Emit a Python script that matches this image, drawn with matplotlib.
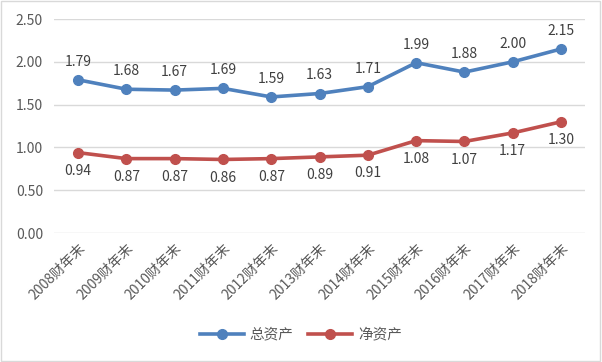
import matplotlib
matplotlib.use("Agg")
import matplotlib.pyplot as plt
from matplotlib.patches import Rectangle

plt.rcParams['font.family'] = ['Noto Sans CJK SC', 'DejaVu Sans']

years = ["2008", "2009", "2010", "2011", "2012", "2013", "2014", "2015", "2016", "2017", "2018"]
labels = [y + "财年末" for y in years]
total_assets = [1.79, 1.68, 1.67, 1.69, 1.59, 1.63, 1.71, 1.99, 1.88, 2.00, 2.15]
net_assets = [0.94, 0.87, 0.87, 0.86, 0.87, 0.89, 0.91, 1.08, 1.07, 1.17, 1.30]

BLUE = "#4F81BD"
RED = "#C0504D"
TXT = "#595959"


def main():
    fig = plt.figure(figsize=(6.02, 3.62), dpi=100)
    ax = fig.add_axes([0.0897, 0.356, 0.8823, 0.5915])

    x = list(range(len(labels)))
    ax.plot(x, total_assets, color=BLUE, lw=2.6, marker='o', ms=7, label="总资产")
    ax.plot(x, net_assets, color=RED, lw=2.6, marker='o', ms=7, label="净资产")

    for i, v in enumerate(total_assets):
        ax.annotate(f"{v:.2f}", (i, v), xytext=(0, 8), textcoords='offset points',
                    ha='center', va='bottom', fontsize=10, color="#404040")
    for i, v in enumerate(net_assets):
        ax.annotate(f"{v:.2f}", (i, v), xytext=(0, -8), textcoords='offset points',
                    ha='center', va='top', fontsize=10, color="#404040")

    ax.set_xlim(-0.5, len(labels) - 0.5)
    ax.set_ylim(0, 2.5)
    ax.set_yticks([0, 0.5, 1.0, 1.5, 2.0, 2.5])
    ax.set_yticklabels([f"{t:.2f}" for t in [0, 0.5, 1.0, 1.5, 2.0, 2.5]])
    ax.set_xticks(x)
    ax.set_xticklabels(labels, rotation=45, ha='right', rotation_mode='anchor')
    ax.tick_params(axis='both', length=0, labelsize=10, labelcolor=TXT)
    ax.tick_params(axis='x', pad=6)
    ax.tick_params(axis='y', pad=8)
    ax.grid(axis='y', color="#D9D9D9", lw=1)
    ax.set_axisbelow(True)
    for s in ax.spines.values():
        s.set_visible(False)

    ax.legend(loc='center', bbox_to_anchor=(0.5, 0.075), bbox_transform=fig.transFigure,
              ncol=2, frameon=False, fontsize=10.5, labelcolor=TXT,
              handlelength=3.0, columnspacing=1.0, handletextpad=0.4)

    fig.patches.append(Rectangle((0.002, 0.003), 0.995, 0.994, transform=fig.transFigure,
                                 fill=False, edgecolor="#D9D9D9", lw=1))

    fig.savefig("out.png", dpi=100)


if __name__ == '__main__':
    main()
